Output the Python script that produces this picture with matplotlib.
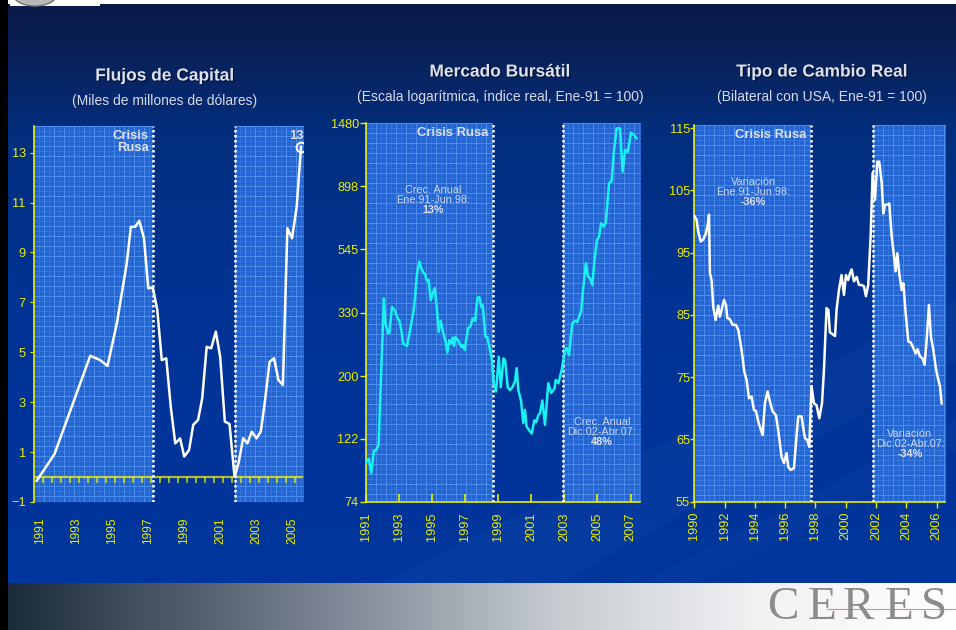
import numpy as np
import matplotlib.pyplot as plt
import matplotlib.patheffects as pe
from matplotlib.patches import Rectangle, Ellipse, Polygon

plt.rcParams['font.family'] = ['Liberation Sans', 'DejaVu Sans']

# Flujos de capital, miles de millones de dólares
flujos_t = [1990.79, 1991.78, 1993.77, 1994.32, 1994.73, 1995.25, 1995.80, 1996.03,
            1996.27, 1996.50, 1996.76, 1997.00, 1997.25, 1997.50, 1997.75, 1998.00,
            1998.25, 1998.50, 1998.77, 1999.00, 1999.27, 1999.50, 1999.77, 2000.00,
            2000.25, 2000.50, 2000.76, 2001.00, 2001.26, 2001.52, 2001.80, 2002.02,
            2002.28, 2002.52, 2002.76, 2003.02, 2003.26, 2003.50, 2003.75, 2004.00,
            2004.24, 2004.49, 2004.74, 2005.00, 2005.26, 2005.50]
flujos_v = [-0.15, 0.92, 4.86, 4.69, 4.45, 6.16, 8.56, 10.03,
            10.03, 10.27, 9.57, 7.56, 7.60, 6.70, 4.69, 4.76,
            2.82, 1.35, 1.55, 0.82, 1.08, 2.09, 2.29, 3.15,
            5.22, 5.16, 5.83, 4.82, 2.22, 2.13, 0.01, 0.55,
            1.55, 1.35, 1.82, 1.55, 1.82, 3.09, 4.62, 4.76,
            3.89, 3.69, 9.97, 9.57, 10.84, 13.24]

# Mercado bursátil, índice real Ene-91 = 100
bolsa_t = [1991.02, 1991.18, 1991.34, 1991.50, 1991.62, 1991.78, 1991.92, 1992.10,
           1992.19, 1992.35, 1992.43, 1992.59, 1992.75, 1992.91, 1993.03, 1993.15,
           1993.27, 1993.50, 1993.70, 1993.90, 1994.00, 1994.10, 1994.24, 1994.40,
           1994.60, 1994.70, 1994.80, 1994.93, 1995.05, 1995.17, 1995.29, 1995.41,
           1995.53, 1995.69, 1995.85, 1995.93, 1996.05, 1996.17, 1996.26, 1996.34,
           1996.42, 1996.62, 1996.78, 1996.86, 1996.98, 1997.18, 1997.32, 1997.47,
           1997.62, 1997.74, 1997.86, 1997.98, 1998.07, 1998.23, 1998.35, 1998.51,
           1998.63, 1998.73, 1998.87, 1999.04, 1999.16, 1999.32, 1999.42, 1999.58,
           1999.72, 1999.86, 2000.02, 2000.12, 2000.22, 2000.38, 2000.52, 2000.62,
           2000.72, 2000.93, 2001.03, 2001.19, 2001.31, 2001.43, 2001.53, 2001.67,
           2001.83, 2002.03, 2002.20, 2002.40, 2002.48, 2002.64, 2002.84, 2003.04,
           2003.14, 2003.28, 2003.48, 2003.65, 2003.77, 2004.01, 2004.15, 2004.30,
           2004.42, 2004.55, 2004.69, 2004.82, 2004.97, 2005.10, 2005.22, 2005.38,
           2005.50, 2005.70, 2005.86, 2005.98, 2006.16, 2006.36, 2006.52, 2006.67,
           2006.83, 2007.03, 2007.23, 2007.35]
bolsa_v = [101, 104, 93, 111, 111, 116, 194, 370,
           304, 281, 282, 346, 337, 318, 310, 288,
           258, 254, 292, 337, 385, 451, 495, 463,
           445, 424, 428, 365, 385, 401, 346, 284,
           310, 281, 259, 241, 266, 259, 271, 254,
           273, 263, 252, 256, 246, 292, 296, 316,
           310, 370, 374, 346, 351, 273, 272, 246,
           227, 189, 177, 233, 183, 230, 227, 183,
           179, 183, 192, 213, 179, 165, 138, 153,
           134, 129, 127, 141, 139, 147, 149, 165,
           136, 189, 175, 181, 194, 189, 210, 246,
           250, 236, 304, 310, 307, 333, 406, 489,
           441, 434, 411, 501, 588, 605, 671, 654,
           671, 920, 937, 1167, 1422, 1422, 1009, 1198,
           1179, 1374, 1345, 1314]

# Tipo de cambio real bilateral con USA, Ene-91 = 100
tcr_t = [1990.00, 1990.15, 1990.26, 1990.42, 1990.59, 1990.77, 1990.90, 1990.97,
         1991.03, 1991.14, 1991.25, 1991.41, 1991.47, 1991.58, 1991.69, 1991.80,
         1991.96, 1992.09, 1992.18, 1992.35, 1992.53, 1992.75, 1992.90, 1993.12,
         1993.30, 1993.45, 1993.61, 1993.78, 1993.94, 1994.07, 1994.22, 1994.40,
         1994.51, 1994.66, 1994.84, 1994.99, 1995.17, 1995.39, 1995.54, 1995.76,
         1995.92, 1996.09, 1996.20, 1996.36, 1996.58, 1996.71, 1996.86, 1997.08,
         1997.30, 1997.46, 1997.59, 1997.74, 1997.90, 1998.07, 1998.25, 1998.43,
         1998.56, 1998.73, 1998.85, 1998.95, 1999.13, 1999.29, 1999.39, 1999.55,
         1999.72, 1999.88, 2000.01, 2000.16, 2000.28, 2000.39, 2000.54, 2000.72,
         2000.87, 2001.04, 2001.20, 2001.33, 2001.48, 2001.64, 2001.77, 2001.93,
         2002.08, 2002.21, 2002.37, 2002.48, 2002.59, 2002.74, 2002.87, 2003.03,
         2003.14, 2003.29, 2003.40, 2003.53, 2003.69, 2003.80, 2003.95, 2004.13,
         2004.28, 2004.46, 2004.61, 2004.74, 2004.90, 2005.07, 2005.20, 2005.34,
         2005.49, 2005.62, 2005.78, 2005.93, 2006.06, 2006.22, 2006.33]
tcr_v = [100.9, 100.3, 98.4, 96.8, 97.1, 98.1, 99.7, 101.1,
         91.7, 90.6, 86.3, 84.2, 85.0, 86.5, 84.7, 85.8,
         87.4, 86.6, 84.5, 84.3, 83.4, 83.4, 82.6, 79.4,
         75.9, 74.6, 71.6, 71.9, 69.7, 69.6, 67.9, 66.5,
         65.7, 70.8, 72.7, 71.1, 69.5, 68.9, 66.5, 62.2,
         61.2, 62.8, 60.6, 60.1, 60.4, 64.4, 68.7, 68.7,
         65.2, 64.9, 63.8, 73.5, 70.8, 70.5, 68.4, 70.8,
         76.2, 86.1, 85.8, 82.2, 81.9, 81.6, 85.8, 89.0,
         91.4, 88.2, 91.4, 90.6, 91.7, 92.3, 90.4, 91.1,
         89.8, 89.8, 89.6, 88.0, 89.8, 97.6, 107.8, 103.5,
         109.6, 109.6, 106.2, 101.3, 102.7, 102.7, 102.9, 97.6,
         95.4, 92.0, 94.9, 91.7, 89.0, 90.1, 85.3, 80.7,
         80.6, 79.7, 78.8, 79.5, 78.3, 78.0, 77.0, 81.0,
         86.6, 81.5, 79.4, 76.7, 75.1, 73.5, 70.8]

# Inicio y fin de la zona "Crisis Rusa" en cada panel
crisis_flujos = (1997.25, 2001.80)
crisis_bolsa = (1998.67, 2002.90)
crisis_tcr = (1997.70, 2001.77)

bolsa_ticks = [74, 122, 200, 330, 545, 898, 1480]

W, H = 956, 630
YELLOW = '#ecec00'
LIGHT = '#dfe1ea'
NOTE = '#c9d3ee'

fig = plt.figure(figsize=(W / 100, H / 100), dpi=100)

# fondo de la lámina en coordenadas de píxel
bg = fig.add_axes([0, 0, 1, 1], zorder=0)
bg.axis('off')

stops_y = [0, 40, 130, 300, 583]
stops_c = np.array([[0.04, 0.10, 0.28], [0.04, 0.12, 0.32], [0.01, 0.18, 0.49],
                    [0.0, 0.20, 0.58], [0.0, 0.21, 0.62]])
ys = np.arange(H)
grad = np.stack([np.interp(ys, stops_y, stops_c[:, k]) for k in range(3)], axis=-1)
bg.imshow(grad[:, None, :], extent=(0, W, H, 0), aspect='auto')

# franjas diagonales suaves
for pts, a in [([(380, 583), (956, 300), (956, 360), (560, 583)], 0.05),
               ([(640, 583), (956, 420), (956, 450), (700, 583)], 0.04)]:
    bg.add_patch(Polygon(pts, closed=True, color='#6f9be0', alpha=a, lw=0))

# franja inferior con degradado gris y logotipo
xs = np.arange(W)
band_c = np.array([[0.10, 0.16, 0.22], [0.45, 0.49, 0.55], [0.78, 0.80, 0.82],
                   [0.95, 0.95, 0.96], [1.0, 1.0, 1.0]])
band = np.stack([np.interp(xs, [0, 300, 560, 760, 956], band_c[:, k]) for k in range(3)], axis=-1)
bg.imshow(band[None, :, :], extent=(0, W, H, 583), aspect='auto')
bg.plot([827, W], [609, 609], color='#e08a8a', lw=0.8)
for letra, lx in zip('CERES', [767, 808, 843, 885, 921]):
    bg.text(lx, 619, letra, family='Liberation Serif', fontsize=34, color='#8c8c8c',
            va='baseline', ha='left')

bg.add_patch(Rectangle((0, 0), 8, H, color='black', lw=0))
bg.add_patch(Rectangle((8, 0), W - 8, 4, color='white', lw=0))
bg.add_patch(Rectangle((10, 0), 90, 6, color='white', lw=0))
bg.add_patch(Ellipse((35, -6), 44, 24, facecolor='#b8b8b8', edgecolor='#707070', lw=1))


def texture(w, h):
    # relleno cuadriculado de las zonas destacadas
    img = np.empty((h, w, 3))
    img[:] = (0.13, 0.38, 0.80)
    yy, xx = np.mgrid[0:h, 0:w]
    img[(xx + yy) % 2 == 0] += 0.03
    img[:, 5::10] = (0.19, 0.46, 0.87)
    img[5::10, :] = (0.19, 0.46, 0.87)
    img[:, ::10] = (0.29, 0.55, 0.93)
    img[::10, :] = (0.29, 0.55, 0.93)
    return np.clip(img, 0, 1)


def panel(left, top, right, bottom):
    ax = fig.add_axes([left / W, 1 - bottom / H, (right - left) / W, (bottom - top) / H],
                      zorder=2)
    ax.set_facecolor('none')
    for s in ['top', 'right', 'bottom']:
        ax.spines[s].set_visible(False)
    ax.spines['left'].set_color(YELLOW)
    ax.spines['left'].set_linewidth(1.2)
    ax.tick_params(colors=YELLOW, labelcolor=YELLOW, labelsize=9.2)
    ax.tick_params(axis='x', labelrotation=90)
    return ax


def shade(ax, crisis):
    # zonas antes y después de la crisis, con el patrón cuadriculado
    x0, x1 = ax.get_xlim()
    bb = ax.get_position()
    top, bottom = (1 - bb.y1) * H, (1 - bb.y0) * H
    y0 = ax.get_ylim()[0]
    for a, b in [(x0, crisis[0]), (crisis[1], x1)]:
        pa = ax.transData.transform((a, y0))[0]
        pb = ax.transData.transform((b, y0))[0]
        w, h = int(round(pb - pa)), int(round(bottom - top))
        bg.imshow(texture(w, h), extent=(pa, pb, bottom, top), aspect='auto',
                  interpolation='nearest')
    for c in crisis:
        ax.axvline(c, color='white', lw=1.8, ls=(0, (1, 1)), zorder=3)


def crisis_label(ax, x, text):
    ax.annotate(text, xy=(x, 1.0), xycoords=('data', 'axes fraction'), xytext=(-3, -3),
                textcoords='offset points', ha='right', va='top', fontsize=9.4,
                fontweight='bold', color=LIGHT, linespacing=0.95)


def note(ax, x, y, head, value):
    ax.text(x, y, head, ha='center', va='bottom', fontsize=7.8, color=NOTE, linespacing=1.05)
    ax.text(x, y, value, ha='center', va='top', fontsize=7.8, color=LIGHT, fontweight='bold')


title_fx = [pe.withSimplePatchShadow(offset=(1, -1), shadow_rgbFace='#000820', alpha=0.6)]
for cx, cy, sy, t, s in [(165, 76, 101, 'Flujos de Capital', '(Miles de millones de dólares)'),
                         (500, 72, 97, 'Mercado Bursátil',
                          '(Escala logarítmica, índice real, Ene-91 = 100)'),
                         (822, 72, 97, 'Tipo de Cambio Real', '(Bilateral con USA, Ene-91 = 100)')]:
    bg.text(cx, cy, t, ha='center', va='center', fontsize=12.5, fontweight='bold',
            color=LIGHT, path_effects=title_fx)
    bg.text(cx, sy, s, ha='center', va='center', fontsize=10, color='#d6dae8')

# Panel 1: flujos de capital
ax1 = panel(34, 126, 303, 502)
ax1.set_xlim(1990.64, 2005.61)
ax1.set_ylim(-1, 14.07)
ax1.set_yticks(range(-1, 14, 2))
ax1.set_xticks(range(1991, 2006, 2))
ax1.tick_params(axis='x', length=0, pad=11, labelsize=8.6)
ax1.tick_params(axis='y', length=3, pad=3)
shade(ax1, crisis_flujos)
ax1.axhline(0, color=YELLOW, lw=1.6, alpha=0.75, zorder=2)
ax1.vlines(np.arange(1991.15, 2005.4, 0.5), -0.24, 0, color=YELLOW, lw=1.2, alpha=0.8, zorder=2)
ax1.plot(flujos_t, flujos_v, color='white', lw=1.8, zorder=4)
ax1.plot(flujos_t[-1], flujos_v[-1], 'o', ms=7, mfc='none', mec='white', mew=1.5, zorder=5)
ax1.annotate(f'{flujos_v[-1]:.0f}', xy=(flujos_t[-1], flujos_v[-1]), xytext=(-3.5, 3.5),
             textcoords='offset points', ha='center', va='bottom', fontsize=9.4,
             fontweight='bold', color=LIGHT)
crisis_label(ax1, crisis_flujos[0], 'Crisis\nRusa')

# Panel 2: mercado bursátil (escala log)
ax2 = panel(365.7, 123.3, 640, 501.7)
ax2.set_yscale('log')
ax2.set_xlim(1991.0, 2007.57)
ax2.set_ylim(74, 1480)
ax2.set_yticks(bolsa_ticks)
ax2.set_yticklabels([str(v) for v in bolsa_ticks])
ax2.minorticks_off()
ax2.set_xticks(range(1991, 2008, 2))
ax2.spines['bottom'].set_visible(True)
ax2.spines['bottom'].set_color(YELLOW)
ax2.spines['bottom'].set_linewidth(1.2)
ax2.tick_params(axis='x', direction='in', length=6, width=1.2, pad=8)
ax2.tick_params(axis='y', length=4, width=1, pad=1)
shade(ax2, crisis_bolsa)
ax2.plot(bolsa_t, bolsa_v, color='#19f2f2', lw=1.8, zorder=4)
crisis_label(ax2, crisis_bolsa[0], 'Crisis Rusa')
note(ax2, 1995.07, 775, 'Crec. Anual\nEne.91-Jun.98:', '13%')
note(ax2, 2005.26, 123.4, 'Crec. Anual\nDic.02-Abr.07:', '48%')

# Panel 3: tipo de cambio real
ax3 = panel(694.3, 125, 945, 501.7)
ax3.set_xlim(1990.0, 2006.55)
ax3.set_ylim(55, 115.5)
ax3.set_yticks(range(55, 116, 10))
ax3.set_xticks(range(1990, 2007, 2))
ax3.spines['bottom'].set_visible(True)
ax3.spines['bottom'].set_color(YELLOW)
ax3.spines['bottom'].set_linewidth(1.2)
ax3.tick_params(axis='x', length=4, width=1, pad=3)
ax3.tick_params(axis='y', length=3, width=1, pad=0)
shade(ax3, crisis_tcr)
ax3.plot(tcr_t, tcr_v, color='white', lw=1.8, zorder=4)
crisis_label(ax3, crisis_tcr[0], 'Crisis Rusa')
note(ax3, 1993.9, 103.9, 'Variación\nEne.91-Jun.98:', '-36%')
note(ax3, 2004.24, 63.46, 'Variación\nDic.02-Abr.07:', '-34%')

bg.set_xlim(0, W)
bg.set_ylim(H, 0)

fig.savefig('out.png', dpi=100)
